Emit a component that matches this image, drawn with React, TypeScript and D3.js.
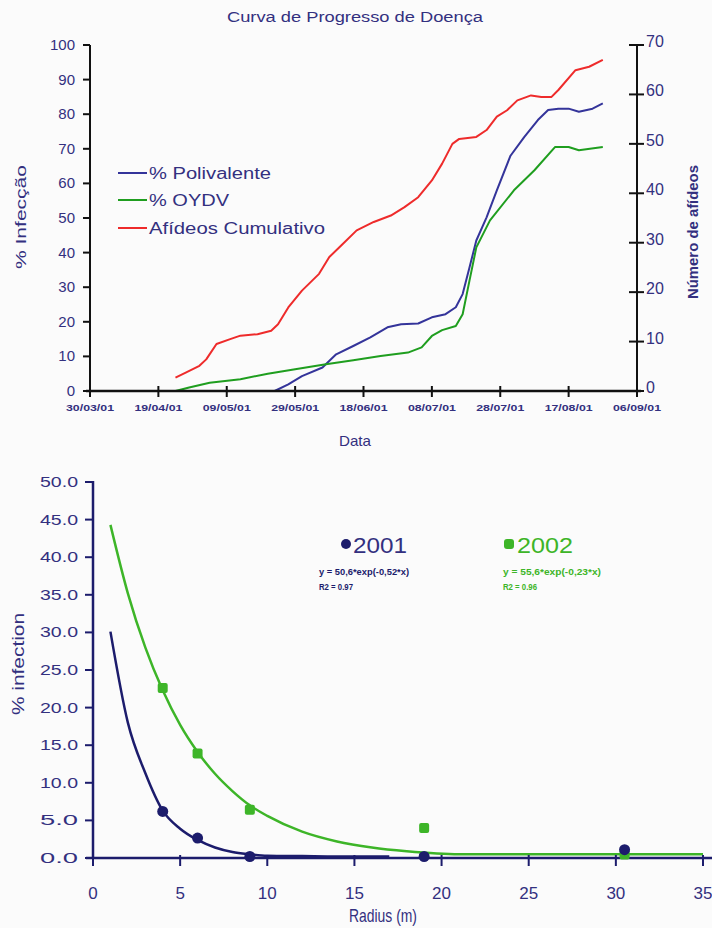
import React from 'react';
import * as d3 from 'd3';

// ---------- Top chart data ----------
const topTitle = 'Curva de Progresso de Doença';
const dateTickLabels = ['30/03/01', '19/04/01', '09/05/01', '29/05/01', '18/06/01', '08/07/01', '28/07/01', '17/08/01', '06/09/01'];
const leftTicks = [0, 10, 20, 30, 40, 50, 60, 70, 80, 90, 100];
const rightTicks = [0, 10, 20, 30, 40, 50, 60, 70];
const seriesNames = ['% Polivalente', '% OYDV', 'Afídeos Cumulativo'];

const polivalenteDates = ['2001-04-24', '2001-05-23', '2001-05-27', '2001-05-31', '2001-06-06', '2001-06-10', '2001-06-15', '2001-06-20', '2001-06-25', '2001-06-29', '2001-07-04', '2001-07-08', '2001-07-12', '2001-07-15', '2001-07-17', '2001-07-19', '2001-07-21', '2001-07-24', '2001-07-27', '2001-07-31', '2001-08-04', '2001-08-08', '2001-08-11', '2001-08-14', '2001-08-17', '2001-08-20', '2001-08-24', '2001-08-27'];
const polivalenteValues = [0, 0, 1.9, 4.3, 6.8, 10.6, 13, 15.5, 18.4, 19.3, 19.5, 21.3, 22.2, 24.2, 28, 35.7, 43.5, 50.2, 58, 68, 73.4, 78.3, 81.2, 81.6, 81.6, 80.7, 81.6, 83.1];

const oydvDates = ['2001-04-24', '2001-04-28', '2001-05-04', '2001-05-13', '2001-05-21', '2001-05-29', '2001-06-07', '2001-06-15', '2001-06-23', '2001-07-01', '2001-07-05', '2001-07-08', '2001-07-11', '2001-07-15', '2001-07-17', '2001-07-19', '2001-07-21', '2001-07-25', '2001-08-01', '2001-08-07', '2001-08-13', '2001-08-17', '2001-08-20', '2001-08-27'];
const oydvValues = [0, 1, 2.4, 3.4, 5, 6.3, 7.7, 8.9, 10.1, 11.1, 12.6, 15.9, 17.6, 18.8, 22.2, 31.9, 41.5, 49.3, 58, 63.8, 70.5, 70.5, 69.6, 70.5];

const afideosDates = ['2001-04-24', '2001-04-27', '2001-05-01', '2001-05-03', '2001-05-06', '2001-05-10', '2001-05-13', '2001-05-18', '2001-05-22', '2001-05-24', '2001-05-27', '2001-05-31', '2001-06-05', '2001-06-08', '2001-06-12', '2001-06-16', '2001-06-21', '2001-06-26', '2001-06-30', '2001-07-04', '2001-07-08', '2001-07-11', '2001-07-14', '2001-07-16', '2001-07-21', '2001-07-24', '2001-07-27', '2001-07-30', '2001-08-02', '2001-08-06', '2001-08-09', '2001-08-12', '2001-08-14', '2001-08-19', '2001-08-23', '2001-08-27'];
const afideosValues = [2.7, 3.7, 5.1, 6.4, 9.5, 10.5, 11.2, 11.5, 12.2, 13.5, 16.9, 20.3, 23.7, 27.1, 29.8, 32.5, 34.2, 35.5, 37.2, 39.2, 42.6, 46, 50, 51, 51.4, 52.8, 55.5, 56.8, 58.8, 59.8, 59.5, 59.5, 60.9, 64.9, 65.6, 67];

// ---------- Bottom chart data ----------
const radiusTicks = [0, 5, 10, 15, 20, 25, 30, 35];
const infectionTicks = [0, 5, 10, 15, 20, 25, 30, 35, 40, 45, 50];
const years = ['2001', '2002'];
const equations = ['y = 50,6*exp(-0,52*x)', 'y = 55,6*exp(-0,23*x)'];
const r2Labels = ['R2 = 0.97', 'R2 = 0.96'];

const radius2001 = [4, 6, 9, 19, 30.5];
const infection2001 = [6.2, 2.65, 0.2, 0.2, 1.1];
const radius2002 = [4, 6, 9, 19, 30.5];
const infection2002 = [22.6, 13.9, 6.4, 4.0, 0.45];

const curve2001X = [1, 2, 3, 4, 5, 6, 7, 8, 9, 10, 12, 14, 17];
const curve2001Y = [30.1, 18.0, 11.3, 6.3, 3.9, 2.4, 1.4, 0.8, 0.5, 0.3, 0.25, 0.2, 0.2];
const curve2002X = [1, 2, 3, 4, 5, 6, 7, 8, 9, 10, 12, 14, 16, 18, 21, 25, 30, 35];
const curve2002Y = [44.3, 35.2, 28.0, 22.3, 17.7, 14.1, 11.2, 8.9, 7.0, 5.6, 3.5, 2.2, 1.4, 0.9, 0.5, 0.5, 0.5, 0.5];

const FONT = 'Liberation Sans, Arial, sans-serif';
const NAVY_TXT = '#33307f';
const BLUE = '#34349a';
const GREEN = '#1f9e1f';
const RED = '#ee2b2b';
const NAVY = '#1c1c6c';
const GREEN2 = '#3db528';

export default function App() {
  const parseIso = d3.timeParse('%Y-%m-%d');
  const parseTick = d3.timeParse('%d/%m/%y');
  const tickDates = dateTickLabels.map((s) => parseTick(s) as Date);

  // top chart scales
  const x = d3.scaleTime().domain([tickDates[0], tickDates[tickDates.length - 1]]).range([90, 637]);
  const yL = d3.scaleLinear().domain([0, 100]).range([391, 45]);
  const yR = d3.scaleLinear().domain([0, 70]).range([391, 45]);

  const mk = (dates: string[], vals: number[]) => dates.map((d, i) => ({ d: parseIso(d) as Date, v: vals[i] }));
  const lineL = d3.line<{ d: Date; v: number }>().x((p) => x(p.d)).y((p) => yL(p.v));
  const lineR = d3.line<{ d: Date; v: number }>().x((p) => x(p.d)).y((p) => yR(p.v));

  const topSeries = [
    { name: seriesNames[0], color: BLUE, path: lineL(mk(polivalenteDates, polivalenteValues)) },
    { name: seriesNames[1], color: GREEN, path: lineL(mk(oydvDates, oydvValues)) },
    { name: seriesNames[2], color: RED, path: lineR(mk(afideosDates, afideosValues)) },
  ];

  // bottom chart scales
  const bx = d3.scaleLinear().domain([0, 35]).range([93, 703]);
  const by = d3.scaleLinear().domain([0, 50]).range([858, 482]);
  const bline = d3.line<[number, number]>().x((p) => bx(p[0])).y((p) => by(p[1])).curve(d3.curveMonotoneX);
  const c2001 = bline(curve2001X.map((v, i) => [v, curve2001Y[i]] as [number, number]));
  const c2002 = bline(curve2002X.map((v, i) => [v, curve2002Y[i]] as [number, number]));

  const legendY = [173, 200, 228];

  return (
    <svg width={712} height={928} style={{ position: 'absolute', left: 0, top: 0, background: '#fbfbfb' }} fontFamily={FONT}>
      <rect x={0} y={0} width={712} height={928} fill="#fbfbfb" />
      {/* ---------------- TOP CHART ---------------- */}
      <text x={355} y={22} textAnchor="middle" fontSize={14} fill={NAVY_TXT} textLength={256} lengthAdjust="spacingAndGlyphs">{topTitle}</text>

      {/* lines */}
      {topSeries.map((s) => (
        <path key={s.name} d={s.path || ''} fill="none" stroke={s.color} strokeWidth={2} strokeLinejoin="round" />
      ))}

      {/* left axis */}
      <line x1={90} x2={90} y1={45} y2={391} stroke="#111" strokeWidth={2} />
      {leftTicks.map((t) => (
        <g key={'l' + t}>
          <line x1={83} x2={90} y1={yL(t)} y2={yL(t)} stroke="#111" strokeWidth={2} />
          <text x={75} y={yL(t) + 5} textAnchor="end" fontSize={15} fill={NAVY_TXT}>{t}</text>
        </g>
      ))}
      {/* right axis */}
      <line x1={637} x2={637} y1={45} y2={391} stroke="#111" strokeWidth={2} />
      {rightTicks.map((t) => (
        <g key={'r' + t}>
          <line x1={629} x2={644} y1={yR(t)} y2={yR(t)} stroke="#111" strokeWidth={2} />
          <text x={646} y={yR(t) + 2} fontSize={16} fill={NAVY_TXT}>{t}</text>
        </g>
      ))}
      {/* x axis */}
      <line x1={86} x2={641} y1={391} y2={391} stroke="#111" strokeWidth={2.5} />
      {tickDates.map((d, i) => (
        <g key={'x' + i}>
          <line x1={x(d)} x2={x(d)} y1={386} y2={397} stroke="#111" strokeWidth={2} />
          <text x={x(d)} y={411} textAnchor="middle" fontSize={9} fontWeight="bold" fill={NAVY_TXT} textLength={48} lengthAdjust="spacingAndGlyphs">{dateTickLabels[i]}</text>
        </g>
      ))}
      <text x={355} y={446} textAnchor="middle" fontSize={15} fill={NAVY_TXT} textLength={32} lengthAdjust="spacingAndGlyphs">Data</text>
      <text transform="translate(26,217) rotate(-90)" textAnchor="middle" fontSize={15} fill={NAVY_TXT} textLength={104} lengthAdjust="spacingAndGlyphs">% Infecção</text>
      <text transform="translate(698,232) rotate(-90)" textAnchor="middle" fontSize={14} fontWeight="bold" fill={NAVY_TXT} textLength={134} lengthAdjust="spacingAndGlyphs">Número de afídeos</text>

      {/* legend */}
      {topSeries.map((s, i) => (
        <g key={'lg' + i}>
          <line x1={118} x2={147} y1={legendY[i]} y2={legendY[i]} stroke={s.color} strokeWidth={2} />
          <text x={149} y={legendY[i] + 6} fontSize={16} fill={NAVY_TXT} textLength={[122, 80, 176][i]} lengthAdjust="spacingAndGlyphs">{s.name}</text>
        </g>
      ))}

      {/* ---------------- BOTTOM CHART ---------------- */}
      <path d={c2001 || ''} fill="none" stroke={NAVY} strokeWidth={2.5} />
      <path d={c2002 || ''} fill="none" stroke={GREEN2} strokeWidth={2.5} />

      {/* axes */}
      <line x1={93} x2={93} y1={481} y2={859} stroke={NAVY} strokeWidth={2.5} />
      {infectionTicks.map((t) => (
        <g key={'by' + t}>
          <line x1={85} x2={93} y1={by(t)} y2={by(t)} stroke={NAVY} strokeWidth={2} />
          <text x={78} y={by(t) + 5} textAnchor="end" fontSize={15} fill={NAVY_TXT} textLength={38} lengthAdjust="spacingAndGlyphs">{t.toFixed(1)}</text>
        </g>
      ))}
      <line x1={86} x2={712} y1={858} y2={858} stroke={NAVY} strokeWidth={2.5} />
      {radiusTicks.map((t) => (
        <g key={'bx' + t}>
          <line x1={bx(t)} x2={bx(t)} y1={855} y2={866} stroke={NAVY} strokeWidth={2} />
          <text x={bx(t)} y={899} textAnchor="middle" fontSize={17} fill={NAVY_TXT}>{t}</text>
        </g>
      ))}
      <text x={383} y={922} textAnchor="middle" fontSize={19} fill={NAVY_TXT} textLength={68} lengthAdjust="spacingAndGlyphs">Radius (m)</text>
      <text transform="translate(24,664) rotate(-90)" textAnchor="middle" fontSize={16} fill={NAVY_TXT} textLength={102} lengthAdjust="spacingAndGlyphs">% infection</text>

      {/* points */}
      {radius2002.map((r, i) => (
        <rect key={'p2' + i} x={bx(r) - 5} y={by(infection2002[i]) - 5} width={10} height={10} rx={2} fill={GREEN2} />
      ))}
      {radius2001.map((r, i) => (
        <circle key={'p1' + i} cx={bx(r)} cy={by(infection2001[i])} r={5.5} fill={NAVY} />
      ))}

      {/* legend */}
      <circle cx={346} cy={544} r={5} fill={NAVY} />
      <text x={353} y={553} fontSize={22} fill={NAVY_TXT} textLength={54} lengthAdjust="spacingAndGlyphs">{years[0]}</text>
      <text x={319} y={575} fontSize={8.5} fontWeight="bold" fill={NAVY} textLength={90} lengthAdjust="spacingAndGlyphs">{equations[0]}</text>
      <text x={319} y={590} fontSize={8.5} fontWeight="bold" fill={NAVY} textLength={34} lengthAdjust="spacingAndGlyphs">{r2Labels[0]}</text>

      <rect x={504} y={539} width={10} height={10} rx={3} fill={GREEN2} />
      <text x={517} y={553} fontSize={22} fill={GREEN2} textLength={56} lengthAdjust="spacingAndGlyphs">{years[1]}</text>
      <text x={503} y={575} fontSize={8.5} fontWeight="bold" fill={GREEN2} textLength={98} lengthAdjust="spacingAndGlyphs">{equations[1]}</text>
      <text x={503} y={590} fontSize={8.5} fontWeight="bold" fill={GREEN2} textLength={34} lengthAdjust="spacingAndGlyphs">{r2Labels[1]}</text>
    </svg>
  );
}
